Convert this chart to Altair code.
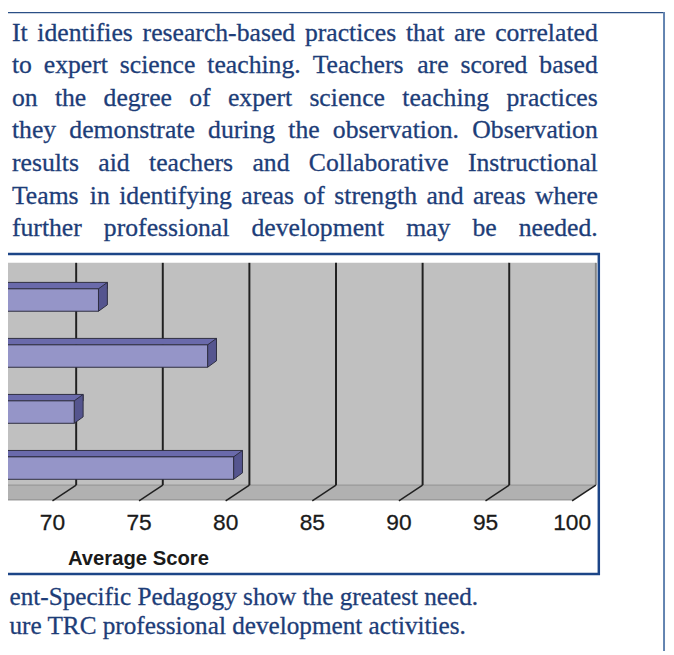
import altair as alt
import pandas as pd

# ---------------- data ----------------
bar_rows = [0, 1, 2, 3]                      # bar order, top to bottom (category names are cropped off)
scores = [72.2, 78.5, 70.8, 80.0]            # average score of each bar
ticks = [70, 75, 80, 85, 90, 95, 100]
tick_labels = ["70", "75", "80", "85", "90", "95", "100"]
axis_min = 50                                # bars start left of the visible crop
axis_title = "Average Score"

para_lines = [
    "It identifies research-based practices that are correlated",
    "to expert science teaching. Teachers are scored based",
    "on the degree of expert science teaching practices",
    "they demonstrate during the observation. Observation",
    "results aid teachers and Collaborative Instructional",
    "Teams in identifying areas of strength and areas where",
    "further professional development may be needed.",
]
bottom_lines = [
    "ent-Specific Pedagogy show the greatest need.",
    "ure TRC professional development activities.",
]

# ---------------- layout ----------------
W, H = 666, 647
PX = 17.533                     # pixels per score unit
FRONT70 = 45.0                  # svg x of value 70 on the front plane
XLO = 70 - FRONT70 / PX
XHI = XLO + W / PX
ROW0, ROWSTEP = 280.3, 56.7     # svg y of first bar front-top edge, bar spacing
YLO = -ROW0 / ROWSTEP
YHI = YLO + H / ROWSTEP

xs = alt.Scale(domain=[XLO, XHI], nice=False, zero=False)
ys = alt.Scale(domain=[YLO, YHI], nice=False, zero=False, reverse=True)

BLUE_TXT = "#1d3d78"
SERIF = "Liberation Serif"
SANS = "Liberation Sans"
FS = 26
FS_BOTTOM = 25.5

# Times metrics for justification
TW = dict(a=444, b=500, c=444, d=500, e=444, f=333, g=500, h=500, i=278, j=278, k=500,
          l=278, m=778, n=500, o=500, p=500, q=500, r=333, s=389, t=278, u=500, v=500,
          w=722, x=500, y=500, z=444)
TW.update({"A": 722, "B": 667, "C": 667, "D": 722, "E": 611, "F": 556, "G": 722, "H": 722,
           "I": 333, "O": 722, "P": 556, "R": 667, "S": 556, "T": 611, ".": 250, "-": 333,
           ",": 250, " ": 250})


def wwidth(s):
    return sum(TW.get(ch, 500) for ch in s) / 1000 * FS


rows = []
LEFT, RIGHT = 4.0, 597.0
for li, line in enumerate(para_lines):
    words = line.split(" ")
    widths = [wwidth(w) for w in words]
    gap = (RIGHT - LEFT - sum(widths)) / (len(words) - 1)
    x = LEFT
    for w, wd in zip(words, widths):
        rows.append({"word": w, "px": x, "py": 29 + 33 * li})
        x += wd + gap
words_df = pd.DataFrame(rows)

bottom_df = pd.DataFrame({"txt": bottom_lines, "px": [1.5, 1.5], "py": [600, 630]})

bars = pd.DataFrame({"row": bar_rows, "score": scores, "base": [axis_min] * len(scores)})
tick_df = pd.DataFrame({"tick": ticks, "label": tick_labels})
wall_df = pd.DataFrame({"start": [axis_min], "end": [ticks[-1]]})
one = pd.DataFrame({"a": [0]})

# ---------------- layers ----------------
frame_top = alt.Chart(one).mark_rule(stroke="#2b4f86", strokeWidth=1.5).encode(
    x=alt.value(0), x2=alt.value(664), y=alt.value(0.75))
frame_right = alt.Chart(one).mark_rule(stroke="#6283b0", strokeWidth=2).encode(
    x=alt.value(664), y=alt.value(0), y2=alt.value(H))
box = alt.Chart(one).mark_rect(fill="white", stroke="#1c4587", strokeWidth=2.5).encode(
    x=alt.value(-6), x2=alt.value(598), y=alt.value(245), y2=alt.value(569))

wall = alt.Chart(wall_df).mark_rect(fill="#c0c0c0", xOffset=24, x2Offset=24).encode(
    x=alt.X("start:Q", scale=xs, axis=None), x2="end:Q",
    y=alt.value(254), y2=alt.value(479))

floor = alt.Chart(wall_df).mark_point(
    shape="M24,0 L0,15 L-900,15 L-876,0 Z", size=4, filled=True, opacity=1,
    fill="#b1b1b1", stroke="#8a8a8a", strokeWidth=1).encode(
    x=alt.X("end:Q", scale=xs, axis=None), y=alt.value(479))

gridlines = alt.Chart(tick_df).mark_rule(strokeWidth=2, xOffset=24).encode(
    x=alt.X("tick:Q", scale=xs, axis=None),
    y=alt.value(254), y2=alt.value(479),
    stroke=alt.condition(alt.datum.tick < 100, alt.value("#202020"), alt.value("#858585")))

floor_ticks = alt.Chart(tick_df).mark_rule(stroke="#202020", strokeWidth=1.5,
                                           xOffset=24, x2Offset=0).encode(
    x=alt.X("tick:Q", scale=xs, axis=None), x2="tick:Q",
    y=alt.value(479), y2=alt.value(495))

OUT = "#2e2e40"
bar_top = alt.Chart(bars).mark_rect(fill="#6a6aab", stroke=OUT, strokeWidth=1,
                                    xOffset=9, x2Offset=17, yOffset=-6.5, y2Offset=0).encode(
    x=alt.X("base:Q", scale=xs, axis=None), x2="score:Q",
    y=alt.Y("row:Q", scale=ys, axis=None), y2="row:Q")

bar_side = alt.Chart(bars).mark_point(
    shape="M0,0 L9,-6.5 L9,16.2 L0,22.7 Z", size=4, filled=True, opacity=1,
    fill="#55558f", stroke=OUT, strokeWidth=1, xOffset=8).encode(
    x=alt.X("score:Q", scale=xs, axis=None),
    y=alt.Y("row:Q", scale=ys, axis=None))

bar_front = alt.Chart(bars).mark_rect(fill="#9595c8", stroke=OUT, strokeWidth=1,
                                      x2Offset=8, y2Offset=22.7).encode(
    x=alt.X("base:Q", scale=xs, axis=None), x2="score:Q",
    y=alt.Y("row:Q", scale=ys, axis=None), y2="row:Q")

tick_text = alt.Chart(tick_df).mark_text(font=SANS, fontSize=23, fill="#1a1a1a",
                                         stroke="#1a1a1a", strokeWidth=0.3,
                                         align="center", baseline="alphabetic").encode(
    x=alt.X("tick:Q", scale=xs, axis=None), y=alt.value(524), text="label:N")

title_text = alt.Chart(one).mark_text(font=SANS, fontSize=20.5, fontWeight="bold",
                                      fill="#1a1a1a", align="center",
                                      baseline="alphabetic", text=axis_title).encode(
    x=alt.value(132), y=alt.value(560))

para = alt.Chart(words_df).mark_text(font=SERIF, fontSize=FS, fill=BLUE_TXT,
                                     stroke=BLUE_TXT, strokeWidth=0.3,
                                     align="left", baseline="alphabetic").encode(
    x=alt.X("px:Q", scale=None, axis=None), y=alt.Y("py:Q", scale=None, axis=None),
    text="word:N")

bottom = alt.Chart(bottom_df).mark_text(font=SERIF, fontSize=FS_BOTTOM, fill=BLUE_TXT,
                                        stroke=BLUE_TXT, strokeWidth=0.3,
                                        align="left", baseline="alphabetic").encode(
    x=alt.X("px:Q", scale=None, axis=None), y=alt.Y("py:Q", scale=None, axis=None),
    text="txt:N")

chart = alt.layer(
    frame_top, frame_right, box, wall, floor, gridlines, floor_ticks,
    bar_top, bar_side, bar_front, tick_text, title_text, para, bottom
).resolve_scale(x="independent", y="independent").properties(
    width=W, height=H, autosize=alt.AutoSizeParams(type="none"), padding=0,
    background="white"
).configure_view(stroke=None)

chart.save("out.html", embed_options={"renderer": "svg", "actions": False})
